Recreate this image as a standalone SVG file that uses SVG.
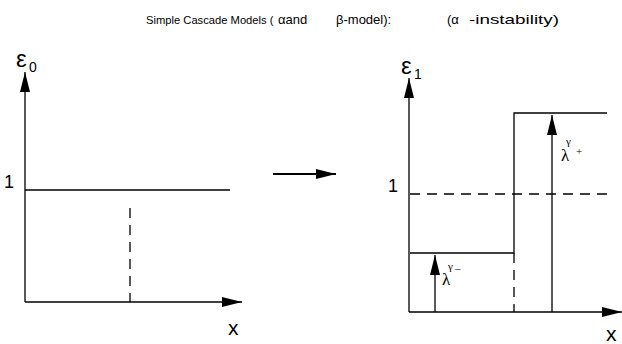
<svg xmlns="http://www.w3.org/2000/svg" width="622" height="344" viewBox="0 0 622 344">
<style>
text{font-family:"Liberation Sans",Arial,sans-serif;fill:#000}
.t{font-size:13px}
.ax{font-size:21px}
.one{font-size:18px}
.g{font-size:24px}
.sub{font-size:14px}
.lam{font-family:"Liberation Serif","Times New Roman",serif;font-size:17px}
.sm{font-family:"Liberation Serif","Times New Roman",serif;font-size:11px}
.ln{stroke:#000;stroke-width:1.3;fill:none}
.ds{stroke:#000;stroke-width:1.3;fill:none;stroke-dasharray:10 7}
</style>
<defs>
<marker id="ah" viewBox="0 0 20 10" refX="20" refY="5" markerWidth="20" markerHeight="10" markerUnits="userSpaceOnUse" orient="auto">
<path d="M0,0 L20,5 L0,10 Z" fill="#000"/>
</marker>
</defs>
<g id="title">
<text class="t" x="146" y="24" style="font-size:11.2px">Simple Cascade Models (</text>
<text class="t" x="278" y="24">αand</text>
<text class="t" x="336" y="24">β-model):</text>
<text class="t" x="447" y="24">(α</text>
<text class="t" x="469" y="24" textLength="90" lengthAdjust="spacingAndGlyphs">-instability)</text>
</g>
<g id="left-panel">
<text class="g" x="16" y="67">ε</text><text class="sub" x="29" y="72">0</text>
<text class="one" x="4" y="188">1</text>
<text class="ax" x="228" y="335">x</text>
<line class="ln" x1="25" y1="190" x2="230" y2="190"/>
<line class="ds" x1="130" y1="208" x2="130" y2="302"/>
</g>
<g id="right-panel">
<text class="g" x="401" y="74">ε</text><text class="sub" x="414" y="79">1</text>
<text class="one" x="388" y="192">1</text>
<text class="ax" x="606" y="341">x</text>
<line class="ds" x1="410" y1="194" x2="612" y2="194"/>
<polyline class="ln" points="410,253 514,253 514,113 607,113"/>
<line class="ds" x1="514" y1="253" x2="514" y2="312" stroke-dasharray="0 19 13 10 30"/>
<text class="lam" x="442" y="285">λ</text><text class="sm" x="448" y="270">γ</text><text class="sm" x="455" y="272">–</text>
<text class="lam" x="561" y="161">λ</text><text class="sm" x="566" y="145">γ</text><text class="sm" x="576" y="155">+</text>
</g>
<g id="connectors">
<line class="ln" x1="25" y1="302" x2="25" y2="72" marker-end="url(#ah)"/>
<line class="ln" x1="25" y1="302" x2="242" y2="302" marker-end="url(#ah)"/>
<line class="ln" x1="409" y1="312" x2="409" y2="78" marker-end="url(#ah)"/>
<line class="ln" x1="409" y1="312" x2="622" y2="312" marker-end="url(#ah)"/>
<line class="ln" x1="435" y1="312" x2="435" y2="255" marker-end="url(#ah)"/>
<line class="ln" x1="552" y1="312" x2="552" y2="115" marker-end="url(#ah)"/>
<line x1="273" y1="174" x2="336" y2="174" stroke="#000" stroke-width="2.2" marker-end="url(#ah)"/>
</g>
</svg>
